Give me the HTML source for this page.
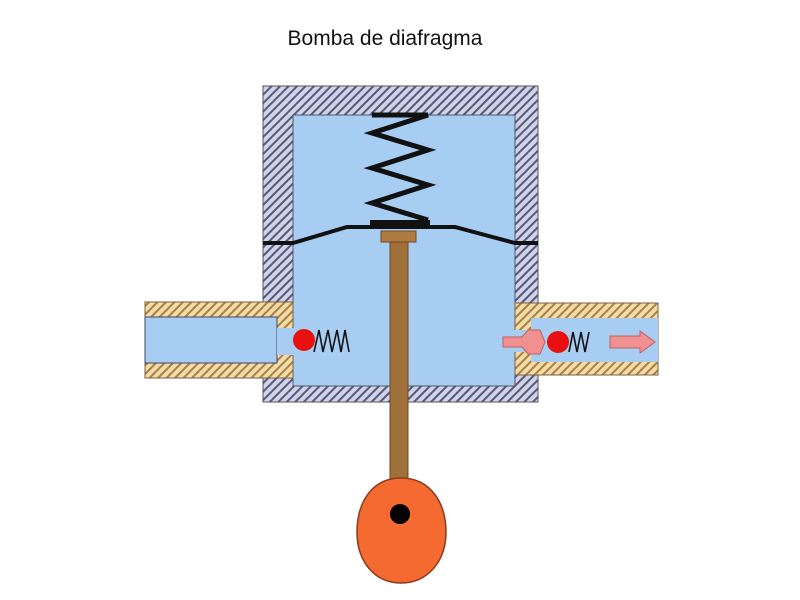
<!DOCTYPE html>
<html><head><meta charset="utf-8"><style>body{margin:0;background:#fff}svg{display:block}</style></head>
<body>
<svg width="800" height="600" xmlns="http://www.w3.org/2000/svg">
<defs>
<pattern id="hb" width="6" height="6" patternUnits="userSpaceOnUse" patternTransform="rotate(45)">
<rect width="6" height="6" fill="#d0d4e6"/><rect width="2" height="6" fill="#55587f"/></pattern>
<pattern id="ho" width="6" height="6" patternUnits="userSpaceOnUse" patternTransform="rotate(45)">
<rect width="6" height="6" fill="#f4dca6"/><rect width="2" height="6" fill="#a88048"/></pattern>
</defs>
<text x="385" y="45" font-family="Liberation Sans, sans-serif" font-size="21" text-anchor="middle" fill="#111">Bomba de diafragma</text>
<rect x="263" y="86" width="275" height="316" fill="url(#hb)" stroke="#555" stroke-width="1"/>
<rect x="293" y="115" width="222" height="271" fill="#a8cdf2" stroke="#556" stroke-width="1"/>
<rect x="145" y="302" width="148" height="76" fill="url(#ho)" stroke="#7a6040"/>
<rect x="145" y="317" width="132" height="46" fill="#a8cdf2" stroke="#446"/>
<rect x="277" y="328" width="17" height="27" fill="#a8cdf2"/>
<rect x="515" y="303" width="143" height="72" fill="url(#ho)" stroke="#7a6040"/>
<rect x="531" y="318" width="127" height="44" fill="#a8cdf2"/>
<rect x="514" y="330" width="18" height="22" fill="#a8cdf2"/>
<polyline points="263,243 293,243 347,227 455,227 515,243 538,243" fill="none" stroke="#111" stroke-width="4"/>
<polyline points="372,115 428,115 372,133 428,150 372,168 428,185 372,203 428,220" fill="none" stroke="#111" stroke-width="5"/>
<rect x="370" y="220" width="60" height="8" fill="#111"/>
<rect x="390" y="238" width="18" height="242" fill="#a0703a" stroke="#6a4a24"/>
<rect x="381" y="231" width="35" height="11" fill="#b07a40" stroke="#6a4a24"/>
<path d="M401,478 C432,478 446,505 446,532 C446,562 427,583 401,583 C375,583 357,562 357,532 C357,505 370,478 401,478Z" fill="#f56a30" stroke="#8a3a20" stroke-width="1.5"/>
<circle cx="400" cy="514" r="10" fill="#000"/>
<circle cx="304" cy="340" r="11" fill="#e81010"/>
<polyline points="314,352 319,330 323,352 328,330 332,352 337,330 341,352 345,330 349,352" fill="none" stroke="#111" stroke-width="1.6"/>
<path d="M503,337 L522,337 L528,330 L540,330 L545,342 L540,354 L528,354 L522,347 L503,347Z" fill="#f09090" stroke="#c06060"/>
<circle cx="558" cy="342" r="11" fill="#e81010"/>
<polyline points="569,352 573,332 577,352 581,332 585,352 589,332" fill="none" stroke="#111" stroke-width="1.6"/>
<path d="M610,336 L640,336 L640,331 L655,342 L640,353 L640,348 L610,348Z" fill="#f09090" stroke="#c06060"/>
</svg>
</body></html>
